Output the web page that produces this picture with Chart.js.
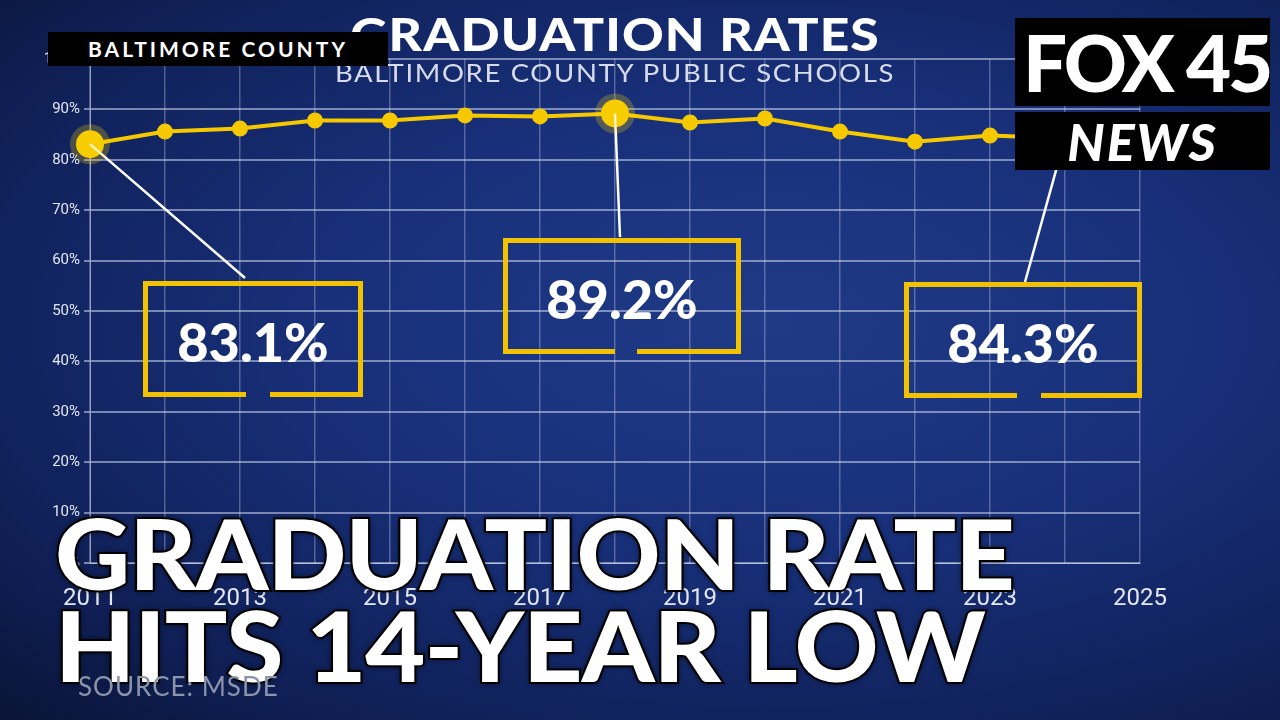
<!DOCTYPE html>
<html>
<head>
<meta charset="utf-8">
<script src="https://cdn.jsdelivr.net/npm/chart.js@4"></script>
<style>
  body { margin: 0; width: 1280px; height: 720px; overflow: hidden; font-family: Lato, "Open Sans", sans-serif;
    background: radial-gradient(ellipse at 60% 45%, #1f3a86 0%, #18307a 40%, #0f1f55 80%, #0a1436 100%); }
  #wrap { position: absolute; left: 0; top: 0; width: 1280px; height: 720px; }
  .abs { position: absolute; }
  .box { position: absolute; border: 5px solid #f2c200; border-bottom: none; color: #fff; font-weight: 900; font-size: 54px;
    display: flex; align-items: center; justify-content: center; box-sizing: border-box; }
  .seg { position: absolute; bottom: 0; height: 5px; background: #f2c200; }
</style>
</head>
<body>
<div id="wrap"><canvas id="c" width="1280" height="720"></canvas></div>

<div class="abs" style="left:300px;top:6px;width:630px;text-align:center;color:#fff;font-weight:900;font-size:46px;letter-spacing:1px;transform:scaleX(1.12)">GRADUATION RATES</div>
<div class="abs" style="left:300px;top:57px;width:630px;text-align:center;color:#d8dcea;font-size:25px;letter-spacing:1.5px;transform:scaleX(1.1)">BALTIMORE COUNTY PUBLIC SCHOOLS</div>
<div class="abs" style="left:48px;top:32px;width:340px;height:34px;background:#000;color:#fff;font-weight:700;font-size:21px;letter-spacing:3px;line-height:34px;text-align:center">BALTIMORE COUNTY</div>

<div class="box" style="left:143px;top:281px;width:220px;height:116px">83.1%<div class="seg" style="left:0;width:98px"></div><div class="seg" style="left:122px;right:0"></div></div>
<div class="box" style="left:503px;top:238px;width:238px;height:116px">89.2%<div class="seg" style="left:0;width:107px"></div><div class="seg" style="left:129px;right:0"></div></div>
<div class="box" style="left:904px;top:282px;width:238px;height:116px">84.3%<div class="seg" style="left:0;width:108px"></div><div class="seg" style="left:132px;right:0"></div></div>

<div class="abs" style="left:1015px;top:18px;width:255px;height:88px;background:#000;color:#fff;font-weight:900;font-size:78px;line-height:88px;letter-spacing:-3px;padding-left:8px;box-sizing:border-box">FOX<span style="margin-left:14px">45</span></div>
<div class="abs" style="left:1015px;top:112px;width:255px;height:58px;background:#000;color:#fff;font-weight:900;font-style:italic;font-size:52px;line-height:58px;text-align:center;letter-spacing:2px">NEWS</div>

<div class="abs" style="left:55px;top:506px;color:#fff;font-weight:900;font-size:98px;line-height:92px;letter-spacing:-1px;-webkit-text-stroke:4px #000;paint-order:stroke fill;text-shadow:0 0 6px #000;transform-origin:0 0;transform:scaleX(1.06)">GRADUATION RATE<br>HITS 14-YEAR LOW</div>
<div class="abs" style="left:78px;top:670px;color:#8c94aa;font-size:26px;letter-spacing:1px">SOURCE: MSDE</div>

<script>
const years = ['2011','2012','2013','2014','2015','2016','2017','2018','2019','2020','2021','2022','2023','2024','2025'];
const rates = [83.1, 85.6, 86.2, 87.8, 87.8, 88.8, 88.6, 89.2, 87.4, 88.2, 85.6, 83.6, 84.8, 84.3, null];
const yTicks = [0, 10, 20, 30, 40, 50, 60, 70, 80, 90, 100];
const highlight = [0, 7, 13];
const calloutTops = [[245, 278], [620, 237], [1025, 282]];

const leaders = {
  id: 'leaders',
  afterDatasetsDraw(chart) {
    const ctx = chart.ctx;
    const meta = chart.getDatasetMeta(0);
    ctx.save();
    ctx.strokeStyle = '#ffffff';
    ctx.lineWidth = 2.5;
    highlight.forEach((idx, k) => {
      const p = meta.data[idx];
      ctx.beginPath();
      ctx.moveTo(p.x, p.y);
      ctx.lineTo(calloutTops[k][0], calloutTops[k][1]);
      ctx.stroke();
      ctx.beginPath();
      ctx.fillStyle = 'rgba(255,215,0,0.25)';
      ctx.arc(p.x, p.y, 20, 0, Math.PI * 2);
      ctx.fill();
    });
    ctx.restore();
  }
};

new Chart(document.getElementById('c'), {
  type: 'line',
  data: {
    labels: years,
    datasets: [{
      data: rates,
      borderColor: '#f5c800',
      backgroundColor: '#f5c800',
      borderWidth: 4,
      pointRadius: rates.map((v, i) => highlight.includes(i) ? 12 : 6),
      tension: 0
    }]
  },
  options: {
    responsive: false,
    animation: false,
    layout: { padding: { top: 59, right: 140, left: 0, bottom: 0 } },
    plugins: { legend: { display: false }, tooltip: { enabled: false } },
    scales: {
      x: {
        afterFit: s => { s.height = 157; },
        grid: { color: 'rgba(200,210,240,0.35)', lineWidth: 1.5, drawTicks: false },
        border: { color: 'rgba(220,225,245,0.6)' },
        ticks: { color: '#e4e7f2', font: { family: 'Roboto', size: 24 }, padding: 22, maxRotation: 0, autoSkip: false,
          callback: (v, i) => i % 2 === 0 ? years[i] : '' }
      },
      y: {
        min: 0, max: 100,
        afterFit: s => { s.width = 90; },
        afterBuildTicks: s => { s.ticks = yTicks.map(v => ({ value: v })); },
        grid: { color: 'rgba(210,215,240,0.55)', lineWidth: 2, tickLength: 6 },
        border: { color: 'rgba(220,225,245,0.6)' },
        ticks: { color: '#e4e7f2', font: { family: 'Roboto', size: 15 }, padding: 4, callback: v => v + '%' }
      }
    }
  },
  plugins: [leaders]
});
</script>
</body>
</html>
